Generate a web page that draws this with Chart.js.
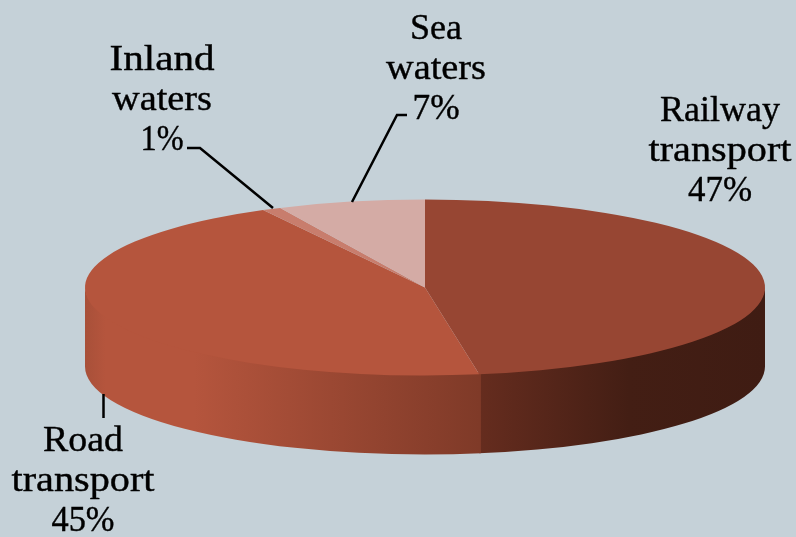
<!DOCTYPE html>
<html>
<head>
<meta charset="utf-8">
<title>Transport</title>
<style>
  html, body { margin: 0; padding: 0; background: #c5d1d8; }
  #wrap { width: 796px; height: 537px; }
</style>
<script src="https://cdn.jsdelivr.net/npm/chart.js@4/dist/chart.umd.min.js"></script>
</head>
<body>
<div id="wrap"><canvas id="pieChart" width="796" height="537"></canvas></div>
<script>
// clockwise from 12 o'clock
var categories = ["Railway transport", "Road transport", "Inland waters", "Sea waters"];
var shares = [47.45, 44.65, 0.9, 7.0];
var topColors = ["#974633", "#b5553d", "#c87d6d", "#d4aba5"];

var xStretch = 340 / 88; // pie is drawn as a circle then stretched sideways
var depth = 79;

// label centre and first line y, one per category
var labelSpots = [[720, 112], [83, 442], [162, 61], [436, 30]];
var leaders = [
    null,
    [[103.5, 394], [103.5, 418]],
    [[187, 148], [200, 148], [273, 208]],
    [[407, 115], [397, 115], [352, 202]]
];
// the original face is wider than Liberation Serif, so each line is fitted
var lineWidths = {
    Railway: 120, transport: 143, Road: 80, Inland: 105, waters: 100, Sea: 52,
    "47%": 64, "45%": 63, "1%": 43, "7%": 47
};

function wallFill(ctx, i) {
    var g = ctx.createLinearGradient(85, 0, 765, 0);
    if (i === 0) {
        g.addColorStop(0.57, "#672d1f");
        g.addColorStop(0.8, "#431e14");
        g.addColorStop(1, "#3f1c13");
    } else {
        g.addColorStop(0, "#a85039");
        g.addColorStop(0.03, "#b5553d");
        g.addColorStop(0.16, "#b5553d");
        g.addColorStop(0.58, "#7f3a28");
    }
    return g;
}

var fakePie = {
    id: "fakePie",
    beforeDatasetsDraw: function (chart) {
        var ctx = chart.ctx;
        var arcs = chart.getDatasetMeta(0).data;
        var cx = arcs[0].x, cy = arcs[0].y, r = arcs[0].outerRadius;
        // front walls, only the part of each slice facing us
        // top edge runs 2px up under the face so no seam shows
        arcs.forEach(function (arc, i) {
            var a = Math.max(arc.startAngle, 0);
            var b = Math.min(arc.endAngle, Math.PI);
            if (a >= b) return;
            if (i > 0) a -= 0.005;
            ctx.beginPath();
            ctx.ellipse(cx, cy - 2, r * xStretch, r, 0, a, b);
            ctx.ellipse(cx, cy + depth, r * xStretch, r, 0, b, a, true);
            ctx.closePath();
            ctx.fillStyle = wallFill(ctx, i);
            ctx.fill();
        });
        ctx.save();
        ctx.translate(cx, 0);
        ctx.scale(xStretch, 1);
        ctx.translate(-cx, 0);
    },
    afterDatasetsDraw: function (chart) {
        chart.ctx.restore();
    },
    afterDraw: function (chart) {
        var ctx = chart.ctx;
        ctx.save();
        ctx.strokeStyle = "#000";
        ctx.lineWidth = 2.5;
        leaders.forEach(function (pts) {
            if (!pts) return;
            ctx.beginPath();
            pts.forEach(function (p, k) {
                if (k === 0) ctx.moveTo(p[0], p[1]);
                else ctx.lineTo(p[0], p[1]);
            });
            ctx.stroke();
        });
        ctx.fillStyle = "#000";
        ctx.strokeStyle = "#000";
        ctx.lineWidth = 0.4;
        ctx.font = "36px 'Liberation Serif'";
        ctx.textAlign = "center";
        ctx.textBaseline = "middle";
        categories.forEach(function (name, i) {
            var lines = name.split(" ").concat(Math.round(shares[i]) + "%");
            lines.forEach(function (line, k) {
                var sx = lineWidths[line] / ctx.measureText(line).width;
                ctx.save();
                ctx.translate(labelSpots[i][0], labelSpots[i][1] + k * 40);
                ctx.scale(sx, 1);
                ctx.fillText(line, 0, 0);
                ctx.strokeText(line, 0, 0);
                ctx.restore();
            });
        });
        ctx.restore();
    }
};

new Chart(document.getElementById("pieChart"), {
    type: "pie",
    data: {
        labels: categories,
        datasets: [{
            data: shares,
            backgroundColor: topColors,
            borderWidth: 0,
            radius: 88,
            clip: false
        }]
    },
    options: {
        responsive: false,
        animation: false,
        layout: { padding: { left: 54, top: 38 } },
        plugins: { legend: { display: false }, tooltip: { enabled: false } }
    },
    plugins: [fakePie]
});
</script>
</body>
</html>
